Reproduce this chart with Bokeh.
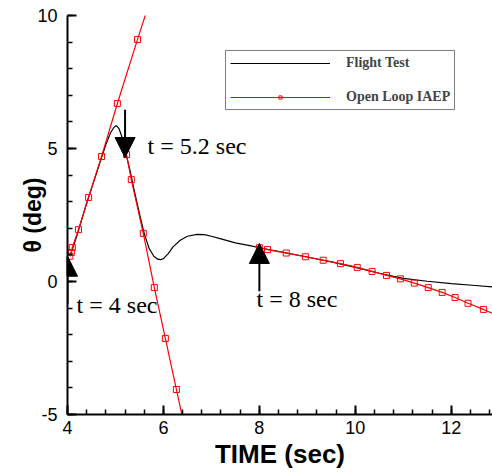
from bokeh.plotting import figure
from bokeh.models import (Range1d, SingleIntervalTicker, Arrow, NormalHead,
                          Legend, LegendItem, Label)
from bokeh.embed import file_html
from bokeh.resources import INLINE

# ---------------- data ----------------
flight_t = [4.05, 4.1, 4.2, 4.3, 4.4, 4.5, 4.6, 4.7, 4.8, 4.9, 4.97, 5.02, 5.07,
            5.12, 5.17, 5.22, 5.3, 5.4, 5.5, 5.6, 5.7, 5.8, 5.88, 5.94, 6.0,
            6.1, 6.2, 6.35, 6.5, 6.7, 6.85, 7.0, 7.2, 7.5, 7.8, 8.0, 8.5, 9.0,
            9.5, 10.0, 10.5, 11.0, 11.5, 12.0, 12.5, 12.86]
flight_theta = [0.95, 1.2, 1.75, 2.35, 2.95, 3.5, 4.05, 4.6, 5.15, 5.6, 5.8,
                5.86, 5.76, 5.52, 5.15, 4.8, 4.2, 3.35, 2.55, 1.8, 1.25, 0.95,
                0.84, 0.82, 0.86, 1.05, 1.3, 1.55, 1.7, 1.77, 1.76, 1.7, 1.6,
                1.45, 1.35, 1.27, 1.1, 0.92, 0.74, 0.53, 0.31, 0.12, 0.01,
                -0.08, -0.15, -0.2]

iaep1_t = [4.05, 4.08, 4.1, 4.23, 4.44, 4.71, 5.04, 5.46, 5.96]
iaep1_theta = [0.95, 1.09, 1.28, 1.95, 3.16, 4.70, 6.69, 9.10, 11.9]

iaep2_t = [5.2, 5.23, 5.33, 5.58, 5.81, 6.04, 6.27, 6.5]
iaep2_theta = [5.0, 4.77, 3.83, 1.81, -0.23, -2.14, -4.06, -5.95]

iaep3_t = [8.0, 8.17, 8.56, 8.96, 9.33, 9.69, 10.04, 10.35, 10.65, 10.94,
           11.23, 11.52, 11.81, 12.08, 12.35, 12.67, 12.97]
iaep3_theta = [1.27, 1.20, 1.07, 0.93, 0.80, 0.67, 0.53, 0.38, 0.23, 0.10,
               -0.06, -0.23, -0.41, -0.60, -0.82, -1.05, -1.28]

event_t = [4.0, 5.2, 8.0]
event_theta = [0.95, 4.66, 1.43]     # arrow tips
event_dir = [1, -1, 1]               # 1 = pointing up, -1 = pointing down
event_labels = ["t = 4 sec", "t = 5.2 sec", "t = 8 sec"]

y_ticks = [-5, 0, 5, 10]
y_tick_labels = ["-5", "0", "5", "10"]

# ---------------- layout / styling ----------------
W, H = 492, 472
X0, X1, Y0, Y1 = 4, 12.86, -5, 10
label_t = [4.19, 5.67, 7.94]
label_theta = [-0.9, 5.1, -0.64]
arrow_len = 1.8

RED = "#ff0000"
SANS = "Liberation Sans"
SERIF = "Liberation Serif"

p = figure(width=W, height=H, x_range=Range1d(X0, X1),
           y_range=Range1d(Y0, Y1), output_backend="svg",
           toolbar_location=None, min_border_left=67, min_border_right=0,
           min_border_top=15, min_border_bottom=58,
           outline_line_color=None)
p.grid.visible = False

# axes with inward ticks
p.xaxis.ticker = SingleIntervalTicker(interval=2, num_minor_ticks=5)
p.yaxis.ticker = SingleIntervalTicker(interval=5, num_minor_ticks=5)
p.yaxis.major_label_overrides = {v: s for v, s in zip(y_ticks, y_tick_labels)}
for ax in (p.xaxis[0], p.yaxis[0]):
    ax.axis_line_width = 2
    ax.axis_line_color = "black"
    ax.major_tick_in = 9
    ax.major_tick_out = 0
    ax.minor_tick_in = 5
    ax.minor_tick_out = 0
    ax.major_tick_line_color = "black"
    ax.minor_tick_line_color = "black"
    ax.major_tick_line_width = 2
    ax.minor_tick_line_width = 1.5
    ax.major_label_text_font = SANS
    ax.major_label_text_font_size = "18px"
    ax.major_label_text_color = "black"
    ax.axis_label_text_font = SANS
    ax.axis_label_text_font_style = "bold"
    ax.axis_label_text_color = "black"
p.xaxis.axis_label = "TIME (sec)"
p.xaxis.axis_label_text_font_size = "26px"
p.xaxis.major_label_standoff = 6
p.xaxis.axis_label_standoff = 2
p.yaxis.axis_label = "θ (deg)"
p.yaxis.axis_label_text_font_size = "23px"
p.yaxis.major_label_standoff = 10
p.yaxis.axis_label_standoff = -12

# curves
flight = p.line(flight_t, flight_theta, line_color="black", line_width=1.2)
r1 = p.line(iaep1_t, iaep1_theta, line_color=RED, line_width=1.2)
p.line(iaep2_t, iaep2_theta, line_color=RED, line_width=1.2)
p.line(iaep3_t, iaep3_theta, line_color=RED, line_width=1.2)
marks = p.scatter(iaep1_t + iaep2_t + iaep3_t,
                  iaep1_theta + iaep2_theta + iaep3_theta,
                  marker="square", size=6, line_color=RED, line_width=1,
                  fill_alpha=0)

# arrows and labels
for t, th, d, lt, lth, txt in zip(event_t, event_theta, event_dir,
                                  label_t, label_theta, event_labels):
    p.add_layout(Arrow(end=NormalHead(size=20, fill_color="black",
                                      line_color="black"),
                       x_start=t, y_start=th - d * arrow_len, x_end=t, y_end=th,
                       line_color="black", line_width=2))
    p.add_layout(Label(x=lt, y=lth, text=txt, text_font=SERIF,
                       text_font_size="24px", text_baseline="middle",
                       text_align="left", text_color="black"))

legend = Legend(items=[LegendItem(label="Flight Test", renderers=[flight]),
                       LegendItem(label="Open Loop IAEP", renderers=[r1, marks])],
                location=(158, 304), padding=4, spacing=18,
                glyph_width=100, glyph_height=8, label_height=8,
                label_standoff=16, label_text_font=SERIF,
                label_text_font_style="bold", label_text_font_size="14px",
                border_line_color="black", border_line_width=1,
                background_fill_color="white", background_fill_alpha=1)
p.add_layout(legend)

open("out.html", "w").write(file_html(p, INLINE))
